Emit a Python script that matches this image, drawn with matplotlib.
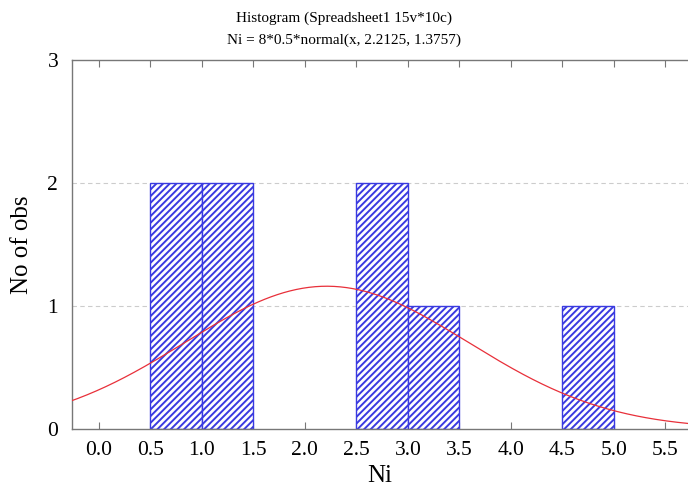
import matplotlib.pyplot as plt
import numpy as np

plt.rcParams['font.family'] = ['Liberation Serif', 'DejaVu Serif']
plt.rcParams['hatch.linewidth'] = 1.4
plt.rcParams['hatch.color'] = '#5050f0'

bin_left = [0.5, 1.0, 2.5, 3.0, 4.5]
counts = [2, 2, 2, 1, 1]
bin_width = 0.5
n_total = 8
mu = 2.2125
sigma = 1.3757
xticks = [0.0, 0.5, 1.0, 1.5, 2.0, 2.5, 3.0, 3.5, 4.0, 4.5, 5.0, 5.5]

fig = plt.figure(figsize=(6.88, 4.91), dpi=100)
ax = fig.add_axes([0.1047, 0.1263, 0.8953, 0.752])

ax.bar(bin_left, counts, width=bin_width, align='edge', color='white',
       edgecolor='#3a3ae0', linewidth=1.0, hatch='/////', zorder=2)

x = np.linspace(-0.3, 5.8, 400)
y = n_total * bin_width * np.exp(-0.5 * ((x - mu) / sigma) ** 2) / (sigma * np.sqrt(2 * np.pi))
ax.plot(x, y, color='#e8303a', linewidth=0.9, zorder=3)

ax.set_xlim(-0.26, 5.72)
ax.set_ylim(0, 3)
ax.set_xticks(xticks)
ax.set_xticklabels([f'{t:.1f}' for t in xticks])
ax.set_yticks([0, 1, 2, 3])
for yy in [1, 2]:
    ax.axhline(yy, color='#cccccc', linestyle=(0, (4, 3)), linewidth=0.8, zorder=1)

ax.spines['right'].set_visible(False)
for s in ['left', 'bottom', 'top']:
    ax.spines[s].set_color('#777777')
    ax.spines[s].set_linewidth(1.0)
ax.tick_params(axis='x', direction='in', top=True, length=5, color='#777777',
               labelsize=15.5, pad=9)
ax.tick_params(axis='y', length=0, labelsize=15.5, pad=10)

ax.set_xlabel('Ni', fontsize=18, labelpad=3)
ax.set_ylabel('No of obs', fontsize=18, labelpad=10)

fig.text(0.5, 0.955, 'Histogram (Spreadsheet1 15v*10c)', ha='center', fontsize=11)
fig.text(0.5, 0.91, 'Ni = 8*0.5*normal(x, 2.2125, 1.3757)', ha='center', fontsize=11)

fig.savefig('out.png', dpi=100)
